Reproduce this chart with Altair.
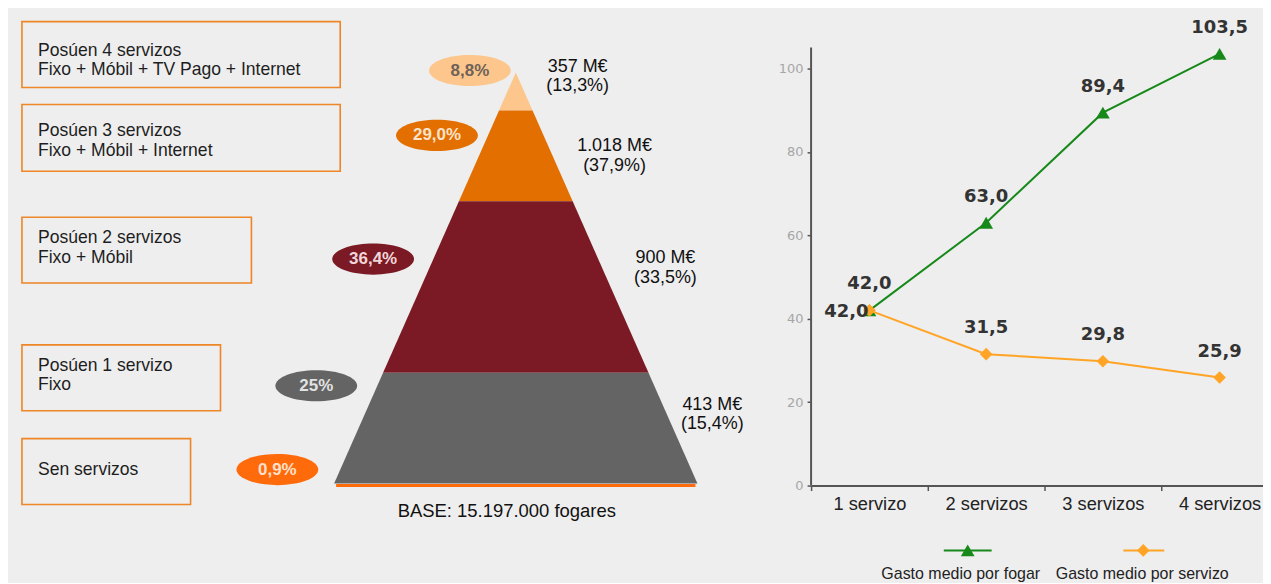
import json
import altair as alt
import pandas as pd

# ---------------- data ----------------
groups = [
    "Posúen 4 servizos\nFixo + Móbil + TV Pago + Internet",
    "Posúen 3 servizos\nFixo + Móbil + Internet",
    "Posúen 2 servizos\nFixo + Móbil",
    "Posúen 1 servizo\nFixo",
    "Sen servizos",
]
household_share = ["8,8%", "29,0%", "36,4%", "25%", "0,9%"]
spend = ["357 M€", "1.018 M€", "900 M€", "413 M€"]
spend_share = ["(13,3%)", "(37,9%)", "(33,5%)", "(15,4%)"]
base_label = ["BASE: 15.197.000 fogares"]

categories = ["1 servizo", "2 servizos", "3 servizos", "4 servizos"]
series = ["Gasto medio por fogar", "Gasto medio por servizo"]
spend_household = [42.0, 63.0, 89.4, 103.5]
spend_service = [42.0, 31.5, 29.8, 25.9]

# ---------------- layout / style ----------------
H = 574
WL = 760
WR = 453
tier_colors = ["#fdc68c", "#e26f00", "#7b1a24", "#646464"]
ellipse_fill = ["#fdc68c", "#e26f00", "#7b1a24", "#646464", "#ff6a0a"]
ellipse_text = ["#6e6258", "#fbe3cc", "#f0d6da", "#e2e2e2", "#ffe0cc"]
box_color = "#ee8526"
tier_depth = [0, 38, 129, 301, 412]
slope = 0.442
box_x = [(-495, -176), (-495, -176), (-495, -265), (-495, -296), (-495, -326)]
box_y = [(-51, 15), (32, 99), (145, 211), (273, 339), (367, 433)]
box_text_y = [-22, 59, 166, 294, 398]
ellipse_xy = [(-46, -2), (-79, 63), (-143, 187), (-200, 314), (-239, 398)]
spend_xy = [(62, -6), (99, 74), (150, 186), (197, 333)]
base_xy = (-9, 440)
green = "#17891a"
orange = "#ffa424"

ELLIPSE = ("M-1,0C-1,-0.21,-0.552,-0.38,0,-0.38C0.552,-0.38,1,-0.21,1,0"
           "C1,0.21,0.552,0.38,0,0.38C-0.552,0.38,-1,0.21,-1,0Z")

# ---------------- left panel (pyramid) ----------------
LX = alt.Scale(domain=[-509, WL - 509], nice=False, zero=False)
LY = alt.Scale(domain=[-64, H - 64], reverse=True, nice=False, zero=False)

pyr_rows = []
for i in range(4):
    for d in (tier_depth[i], tier_depth[i + 1]):
        pyr_rows.append({"tier": groups[i], "depth": d})
pyr_df = pd.DataFrame(pyr_rows)

pyramid = alt.Chart(pyr_df).transform_calculate(
    xl=f"-datum.depth*{slope}", xr=f"datum.depth*{slope}"
).mark_area(orient="horizontal").encode(
    y=alt.Y("depth:Q", scale=LY, axis=None),
    x=alt.X("xl:Q", scale=LX, axis=None, stack=None),
    x2="xr:Q",
    color=alt.Color("tier:N", scale=alt.Scale(domain=groups[:4], range=tier_colors), legend=None),
)

bh = tier_depth[-1] * slope - 2
base_df = pd.DataFrame({"x0": [-bh], "x1": [bh], "y0": [tier_depth[-1] + 0.5], "y1": [tier_depth[-1] + 3.5]})
base_strip = alt.Chart(base_df).mark_rect(color="#ff6a0a").encode(
    x=alt.X("x0:Q", scale=LX, axis=None), x2="x1:Q",
    y=alt.Y("y0:Q", scale=LY, axis=None), y2="y1:Q",
)

box_df = pd.DataFrame({
    "label": groups,
    "x0": [b[0] for b in box_x], "x1": [b[1] for b in box_x],
    "y0": [b[0] for b in box_y], "y1": [b[1] for b in box_y],
    "yt": box_text_y,
})
box_df["xt"] = box_df["x0"] + 16
boxes = alt.Chart(box_df).mark_rect(fillOpacity=0, stroke=box_color, strokeWidth=1.6).encode(
    x=alt.X("x0:Q", scale=LX, axis=None), x2="x1:Q",
    y=alt.Y("y0:Q", scale=LY, axis=None), y2="y1:Q",
)
box_text = alt.Chart(box_df).mark_text(
    align="left", baseline="middle", lineBreak="\n", lineHeight=19.5,
    font="Liberation Sans", fontSize=17.6, color="#1e1e1e"
).encode(
    x=alt.X("xt:Q", scale=LX, axis=None), y=alt.Y("yt:Q", scale=LY, axis=None), text="label:N"
)

ell_df = pd.DataFrame({
    "share": household_share,
    "x": [p[0] for p in ellipse_xy], "y": [p[1] for p in ellipse_xy],
    "fill": ellipse_fill, "tc": ellipse_text,
})
ellipses = alt.Chart(ell_df).mark_point(
    shape=ELLIPSE, filled=True, opacity=1, size=82 * 82, strokeWidth=0
).encode(
    x=alt.X("x:Q", scale=LX, axis=None), y=alt.Y("y:Q", scale=LY, axis=None),
    color=alt.Color("fill:N", scale=None),
)
ell_text = alt.Chart(ell_df).mark_text(
    font="Liberation Sans", fontWeight="bold", fontSize=17, baseline="middle"
).encode(
    x=alt.X("x:Q", scale=LX, axis=None), y=alt.Y("y:Q", scale=LY, axis=None),
    text="share:N", color=alt.Color("tc:N", scale=None),
)

sp_df = pd.DataFrame({
    "label": [a + "\n" + b for a, b in zip(spend, spend_share)],
    "x": [p[0] for p in spend_xy], "y": [p[1] for p in spend_xy],
})
spend_text = alt.Chart(sp_df).mark_text(
    align="center", baseline="middle", lineBreak="\n", lineHeight=19.5,
    font="Liberation Sans", fontSize=18, color="#111111"
).encode(
    x=alt.X("x:Q", scale=LX, axis=None), y=alt.Y("y:Q", scale=LY, axis=None), text="label:N"
)

bl_df = pd.DataFrame({"label": base_label, "x": [base_xy[0]], "y": [base_xy[1]]})
base_text = alt.Chart(bl_df).mark_text(
    font="Liberation Sans", fontSize=18.5, color="#111111", baseline="middle"
).encode(
    x=alt.X("x:Q", scale=LX, axis=None), y=alt.Y("y:Q", scale=LY, axis=None), text="label:N"
)

left = alt.layer(pyramid, base_strip, boxes, box_text, ellipses, ell_text, spend_text, base_text).properties(
    width=WL, height=H
)

# ---------------- right panel (lines) ----------------
px_per_unit = 439 / 105.0
zero_y = 478
ytop = 105 + 39 / px_per_unit
ybot = -(H - zero_y) / px_per_unit
xmax = 0.5 + WR / 117.0
RX = alt.Scale(domain=[0.5, xmax], nice=False, zero=False)
RY = alt.Scale(domain=[ybot, ytop], nice=False, zero=False)

label_expr = ("datum.value % 1 === 0 ? " + json.dumps(categories).replace('"', "'")
              + "[datum.value - 1] : ''")
XAX = alt.Axis(
    values=[0.5, 1, 1.5, 2, 2.5, 3, 3.5, 4], labelExpr=label_expr, title=None, grid=False,
    offset=-(H - zero_y), domainColor="#555555", domainWidth=2,
    tickColor="#555555", tickWidth=1.5, tickSize=5,
    tickOpacity={"condition": {"test": "datum.value % 1 === 0", "value": 0}, "value": 1},
    labelFont="Liberation Sans", labelFontSize=18.3, labelColor="#222222", labelPadding=5,
    labelOverlap=False, labelFlush=False,
)
YAX = alt.Axis(
    values=[0, 20, 40, 60, 80, 100], title=None, grid=False, domain=False,
    tickColor="#555555", tickWidth=1.5, tickSize=4,
    labelFont="DejaVu Sans", labelFontSize=13, labelColor="#a6a6a6", labelPadding=4,
    minExtent=45, maxExtent=45,
)

rows = []
for s, vals in zip(series, [spend_household, spend_service]):
    for i, v in enumerate(vals):
        rows.append({"series": s, "pos": i + 1, "value": v, "label": f"{v:.1f}".replace(".", ",")})
line_df = pd.DataFrame(rows)

yrule_df = pd.DataFrame({"x": [0.5], "y0": [0], "y1": [105]})
yrule = alt.Chart(yrule_df).mark_rule(color="#555555", strokeWidth=2).encode(
    x=alt.X("x:Q", scale=RX, axis=XAX), y=alt.Y("y0:Q", scale=RY, axis=YAX), y2="y1:Q"
)

colors = [green, orange]
shapes = ["triangle-up", "diamond"]
sizes = [190, 160]
layers = [yrule]
for s, c, sh, sz in zip(series, colors, shapes, sizes):
    base = alt.Chart(line_df).transform_filter(alt.datum.series == s)
    layers.append(base.mark_line(color=c, strokeWidth=2).encode(
        x=alt.X("pos:Q", scale=RX, axis=XAX), y=alt.Y("value:Q", scale=RY, axis=YAX)))
    layers.append(base.mark_point(shape=sh, filled=True, opacity=1, size=sz, color=c).encode(
        x=alt.X("pos:Q", scale=RX, axis=XAX), y=alt.Y("value:Q", scale=RY, axis=YAX)))

lab_common = dict(font="DejaVu Sans", fontWeight="bold", fontSize=18, color="#333333", baseline="middle")
labels_main = alt.Chart(line_df).transform_filter(
    f"!(datum.series == '{series[1]}' && datum.pos == 1)"
).mark_text(dy=-26, **lab_common).encode(
    x=alt.X("pos:Q", scale=RX, axis=XAX), y=alt.Y("value:Q", scale=RY, axis=YAX), text="label:N"
)
labels_side = alt.Chart(line_df).transform_filter(
    f"datum.series == '{series[1]}' && datum.pos == 1"
).mark_text(align="right", dx=-1, dy=2, **lab_common).encode(
    x=alt.X("pos:Q", scale=RX, axis=XAX), y=alt.Y("value:Q", scale=RY, axis=YAX), text="label:N"
)
layers += [labels_main, labels_side]

# custom legend (symbol above text)
leg_df = pd.DataFrame({"series": series})
leg_line_x = [(133, 181), (313, 354)]
leg_sym_x = [157, 333]
leg_text_x = [150, 332]
leg_sym_y = 543
leg_text_y = 567
for i, (c, sh, sz) in enumerate(zip(colors, shapes, sizes)):
    one = alt.Chart(leg_df.iloc[[i]])
    layers.append(one.mark_rule(color=c, strokeWidth=2).encode(
        x=alt.value(leg_line_x[i][0]), x2=alt.value(leg_line_x[i][1]), y=alt.value(leg_sym_y)))
    layers.append(one.mark_point(shape=sh, filled=True, opacity=1, size=sz, color=c).encode(
        x=alt.value(leg_sym_x[i]), y=alt.value(leg_sym_y)))
    layers.append(one.mark_text(font="Liberation Sans", fontSize=16, color="#222222", baseline="middle").encode(
        x=alt.value(leg_text_x[i]), y=alt.value(leg_text_y), text="series:N"))

right = alt.layer(*layers).properties(width=WR, height=H)

chart = alt.hconcat(left, right, spacing=0).properties(
    background="#eeeeee", padding=0
).configure_view(stroke=None)

chart.save("out.html", embed_options={"renderer": "svg", "actions": False})
